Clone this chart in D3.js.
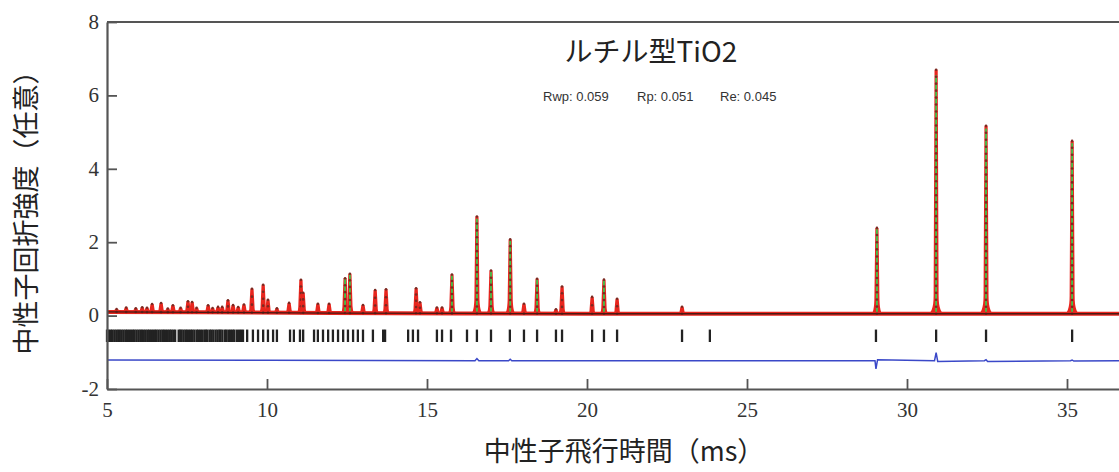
<!DOCTYPE html>
<html>
<head>
<meta charset="utf-8">
<script src="https://cdn.jsdelivr.net/npm/d3@7"></script>
<style>
  body { margin: 0; background: #fff; }
  svg { display: block; }
  .axis text { font-family: "Liberation Serif", "DejaVu Serif", serif; font-size: 21px; fill: #333; }
  .axis path, .axis line { stroke: #555; }
</style>
</head>
<body>
<div id="chart"></div>
<script>
// peak positions (ms) and heights
const peakT   = [5.3, 5.6, 5.9, 6.1, 6.25, 6.41, 6.69, 6.9, 7.06, 7.3, 7.53, 7.66, 7.8, 8.16, 8.3, 8.47, 8.6, 8.78, 8.94, 9.1, 9.28,
                 9.53, 9.88, 10.03, 10.31, 10.69, 11.06, 11.13, 11.59, 11.94, 12.44, 12.59, 13.0, 13.38, 13.72, 14.66, 14.78,
                 15.31, 15.47, 15.78, 16.56, 17.0, 17.6, 18.03, 18.44, 19.03, 19.22, 20.16, 20.53, 20.94, 22.97,
                 29.06, 30.91, 32.47, 35.16];
const peakObs = [0.08, 0.12, 0.1, 0.13, 0.12, 0.22, 0.25, 0.1, 0.19, 0.12, 0.3, 0.28, 0.12, 0.19, 0.12, 0.15, 0.15, 0.33, 0.2, 0.15, 0.22,
                 0.65, 0.76, 0.35, 0.12, 0.27, 0.9, 0.55, 0.25, 0.25, 0.95, 1.07, 0.22, 0.63, 0.65, 0.68, 0.3,
                 0.16, 0.16, 1.06, 2.64, 1.17, 2.02, 0.27, 0.95, 0.12, 0.74, 0.46, 0.93, 0.41, 0.19,
                 2.34, 6.65, 5.12, 4.71];
const peakCalc = [0.07, 0.11, 0.09, 0.12, 0.11, 0.21, 0.24, 0.09, 0.18, 0.11, 0.29, 0.27, 0.11, 0.18, 0.11, 0.14, 0.14, 0.32, 0.19, 0.14, 0.21,
                 0.63, 0.74, 0.34, 0.11, 0.26, 0.88, 0.53, 0.24, 0.24, 0.93, 1.05, 0.21, 0.61, 0.63, 0.66, 0.29,
                 0.15, 0.15, 1.03, 2.58, 1.14, 1.98, 0.26, 0.93, 0.11, 0.72, 0.45, 0.91, 0.4, 0.18,
                 2.3, 6.5, 5.05, 4.65];

// background under the pattern
const bgT = [5, 8, 12, 16, 20, 30, 37];
const bgY = [0.1, 0.09, 0.07, 0.06, 0.05, 0.05, 0.05];

// reflection marks (ms)
const reflT = [5.00, 5.06, 5.12, 5.17, 5.23, 5.29, 5.35, 5.40, 5.46, 5.52, 5.58, 5.63, 5.69, 5.75, 5.81, 5.86, 5.92, 5.98,
               6.04, 6.09, 6.15, 6.21, 6.27, 6.32, 6.38, 6.44, 6.50, 6.55, 6.61, 6.67, 6.73, 6.78, 6.84, 6.90, 6.96, 7.01,
               7.07, 7.13, 7.24, 7.29, 7.33, 7.39, 7.45, 7.50, 7.56, 7.62, 7.67, 7.73, 7.80, 7.85, 7.91, 7.97, 8.04, 8.09,
               8.14, 8.21, 8.26, 8.32, 8.39, 8.45, 8.51, 8.55, 8.61, 8.69, 8.74, 8.81, 8.87, 8.93, 8.98, 9.06, 9.13, 9.19,
               9.25, 9.38, 9.56, 9.72, 9.88, 10.03, 10.19, 10.31, 10.72, 10.84, 11.03, 11.13, 11.47, 11.59, 11.75, 11.91,
               12.06, 12.22, 12.38, 12.53, 12.69, 12.84, 13.0, 13.31, 13.63, 13.69, 14.41, 14.56, 14.72, 15.31, 15.47, 15.75,
               16.25, 16.56, 17.0, 17.59, 18.03, 18.44, 19.03, 19.22, 20.16, 20.53, 20.94, 22.97, 23.84, 29.03, 30.91,
               32.47, 35.16];

// difference curve (obs - calc), drawn with offset
const diffT = [5, 10, 16.5, 16.56, 16.62, 17.55, 17.6, 17.65, 29.0, 29.03, 29.08, 30.86, 30.91, 30.96, 32.42, 32.47, 32.52,
               35.11, 35.16, 35.21, 37];
const diffY = [-1.21, -1.22, -1.23, -1.17, -1.23, -1.23, -1.19, -1.23, -1.23, -1.45, -1.2, -1.23, -1.01, -1.25, -1.23, -1.2,
               -1.25, -1.23, -1.21, -1.24, -1.23];

const xTicks = [5, 10, 15, 20, 25, 30, 35];
const yTicks = [-2, 0, 2, 4, 6, 8];

const W = 1119, H = 472;
const mLeft = 107, mRight = 1131, mTop = 22, mBottom = 389;

const svg = d3.select("#chart").append("svg")
    .attr("width", W)
    .attr("height", H);

const x = d3.scaleLinear().domain([5, 37]).range([mLeft, mRight]);
const y = d3.scaleLinear().domain([-2, 8]).range([mBottom, mTop]);

const bgAt = d3.scaleLinear().domain(bgT).range(bgY);

// background line (observed band + dark line)
const bgLine = d3.line().x(d => x(d[0])).y(d => y(d[1]));
const bgPts = bgT.map((t, i) => [t, bgY[i]]);
svg.append("path").attr("d", bgLine(bgPts))
    .attr("fill", "none").attr("stroke", "#e8261e").attr("stroke-width", 4);

// peaks
const g = svg.append("g");
peakT.forEach((t, i) => {
    const px = x(t);
    const yb = y(bgAt(t));
    const yt = y(peakObs[i] + bgAt(t));
    const hpx = yb - yt;
    const fh = Math.min(18, hpx * 0.3);
    const fw = Math.min(8, 2 + hpx * 0.03);
    const p = d3.path();
    p.moveTo(px - fw - 2, yb + 1);
    p.quadraticCurveTo(px - 2.5, yb, px - 2.5, yb - fh);
    p.lineTo(px - 1.6, yt);
    p.lineTo(px + 1.6, yt);
    p.lineTo(px + 2.5, yb - fh);
    p.quadraticCurveTo(px + 2.5, yb, px + fw + 2, yb + 1);
    p.closePath();
    g.append("path").attr("d", p.toString()).attr("fill", "#e8261e");
    if (peakCalc[i] > 0.9) {
        g.append("line")
            .attr("x1", px).attr("x2", px)
            .attr("y1", yb - 2).attr("y2", y(peakCalc[i] + bgAt(t)))
            .attr("stroke", "#3ec24a").attr("stroke-width", 1.8);
    }
    // observed points
    const n = Math.max(1, Math.round(hpx / 7));
    for (let k = 0; k <= n; k++) {
        g.append("circle")
            .attr("cx", px).attr("cy", yt + (hpx * k) / n)
            .attr("r", 1.3).attr("fill", "#7a2a22");
    }
});

svg.append("path").attr("d", bgLine(bgPts))
    .attr("fill", "none").attr("stroke", "#4a1a14").attr("stroke-width", 1.3);

// reflection marks
svg.append("g").selectAll("line").data(reflT).enter().append("line")
    .attr("x1", d => x(d)).attr("x2", d => x(d))
    .attr("y1", y(-0.38)).attr("y2", y(-0.72))
    .attr("stroke", "#222").attr("stroke-width", 2.3);

// difference curve
const diffLine = d3.line().x((d, i) => x(diffT[i])).y(d => y(d));
svg.append("path").attr("d", diffLine(diffY))
    .attr("fill", "none").attr("stroke", "#3a48c8").attr("stroke-width", 1.5);

// axes
const yAxis = svg.append("g").attr("class", "axis")
    .attr("transform", "translate(" + mLeft + ",0)")
    .call(d3.axisLeft(y).tickValues(yTicks).tickSize(-10).tickSizeOuter(0).tickPadding(8).tickFormat(d => String(d)));
yAxis.select(".domain").attr("stroke-width", 2.2);
yAxis.selectAll("line").attr("stroke-width", 1.8);
yAxis.selectAll("text").attr("dy", "0.3em");

const xAxis = svg.append("g").attr("class", "axis")
    .attr("transform", "translate(0," + mBottom + ")")
    .call(d3.axisBottom(x).tickValues(xTicks).tickSize(-10).tickSizeOuter(0).tickPadding(13));
xAxis.select(".domain").attr("stroke-width", 2.2);
xAxis.selectAll("line").attr("stroke-width", 1.8);

svg.append("line")
    .attr("x1", mLeft).attr("x2", mRight)
    .attr("y1", mTop).attr("y2", mTop)
    .attr("stroke", "#555").attr("stroke-width", 2.2);

// titles
svg.append("text")
    .text("ルチル型TiO2")
    .attr("x", 651).attr("y", 62)
    .attr("text-anchor", "middle")
    .attr("font-family", "Noto Sans CJK JP")
    .attr("font-size", 28)
    .attr("fill", "#222");

const stats = [["Rwp: 0.059", 543], ["Rp: 0.051", 637], ["Re: 0.045", 720]];
stats.forEach(s => {
    svg.append("text")
        .text(s[0])
        .attr("x", s[1]).attr("y", 101)
        .attr("font-family", "Liberation Sans Narrow, Liberation Sans, sans-serif")
        .attr("font-size", 13)
        .attr("fill", "#333");
});

svg.append("text")
    .text("中性子回折強度（任意）")
    .attr("transform", "translate(36,206) rotate(-90)")
    .attr("text-anchor", "middle")
    .attr("font-family", "Noto Sans CJK JP")
    .attr("font-size", 27)
    .attr("fill", "#222");

svg.append("text")
    .text("中性子飛行時間（ms）")
    .attr("x", 624).attr("y", 461)
    .attr("text-anchor", "middle")
    .attr("font-family", "Noto Sans CJK JP")
    .attr("font-size", 27)
    .attr("fill", "#222");
</script>
</body>
</html>
